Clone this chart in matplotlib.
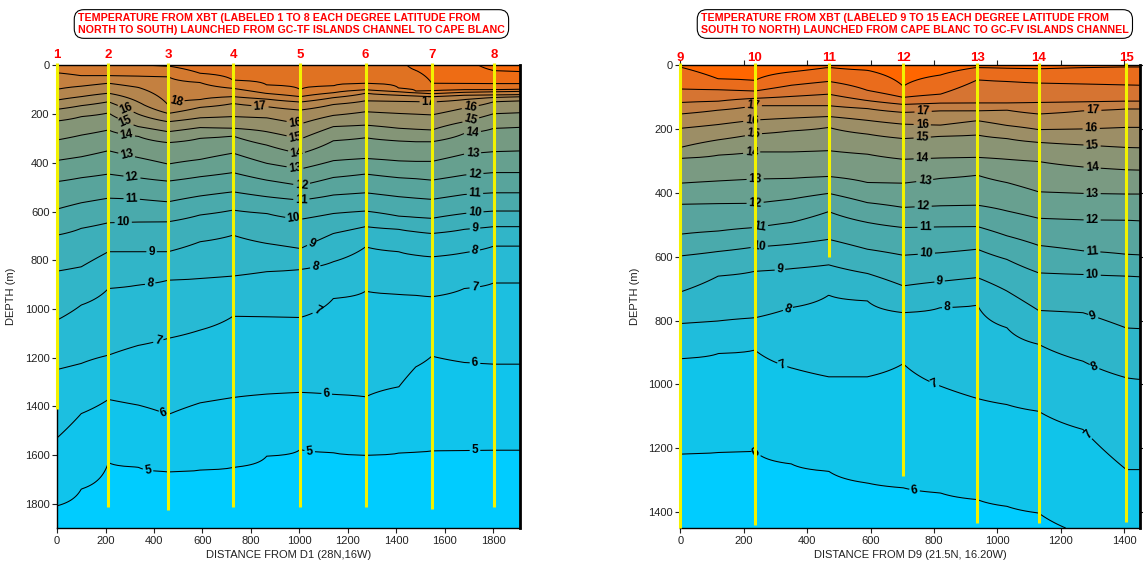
import numpy as np
import matplotlib.pyplot as plt

plt.rcParams['font.family'] = ['Liberation Sans', 'DejaVu Sans']

# ---------------------------------------------------------------- left section (D1 -> south)
left_dist = [0, 100, 212, 335, 458, 590, 726, 865, 1004, 1140, 1273, 1410, 1480, 1546, 1680, 1802, 1910]
# depth (m) of each isotherm at left_dist, 0 = not present
L05 = [1809, 1740, 1631, 1650, 1669, 1662, 1651, 1605, 1577, 1590, 1601, 1592, 1588, 1583, 1581, 1580, 1580]
L06 = [1530, 1430, 1372, 1395, 1434, 1386, 1364, 1350, 1343, 1351, 1361, 1320, 1238, 1194, 1220, 1227, 1227]
L07 = [1249, 1224, 1190, 1150, 1121, 1087, 1030, 1032, 1035, 957, 927, 940, 944, 950, 916, 893, 893]
L08 = [1046, 984, 916, 902, 882, 875, 865, 847, 838, 806, 745, 765, 779, 786, 769, 742, 742]
L09 = [845, 827, 765, 765, 765, 724, 697, 731, 752, 690, 662, 673, 683, 690, 673, 662, 662]
L10 = [697, 669, 646, 643, 642, 614, 594, 608, 632, 608, 598, 619, 624, 628, 608, 598, 598]
L11 = [590, 564, 545, 549, 560, 536, 519, 539, 553, 532, 523, 539, 545, 550, 530, 523, 523]
L12 = [477, 461, 446, 461, 475, 457, 440, 471, 493, 460, 446, 461, 465, 471, 450, 440, 440]
L13 = [390, 375, 350, 378, 405, 386, 360, 402, 425, 391, 382, 392, 394, 394, 364, 354, 351]
L14 = [306, 286, 265, 291, 317, 299, 290, 327, 362, 309, 297, 310, 313, 313, 279, 258, 254]
L15 = [228, 210, 195, 251, 272, 255, 258, 272, 302, 251, 245, 258, 262, 265, 231, 198, 194]
L16 = [180, 165, 149, 200, 231, 215, 210, 215, 240, 205, 190, 197, 200, 203, 175, 149, 145]
L17 = [142, 128, 114, 150, 197, 172, 156, 169, 183, 160, 145, 147, 148, 150, 140, 131, 128]
L18 = [98, 85, 73, 90, 162, 140, 128, 138, 150, 132, 114, 122, 125, 128, 122, 121, 120]
L19 = [30, 42, 42, 44, 46, 70, 94, 115, 128, 112, 100, 108, 112, 116, 110, 108, 106]
L20 = [0, 0, 0, 0, 2, 32, 60, 80, 100, 84, 73, 94, 105, 104, 100, 100, 98]
L21 = [0, 0, 0, 0, 0, 0, 0, 0, 0, 0, 0, 0, 20, 73, 75, 75, 75]
L22 = [0, 0, 0, 0, 0, 0, 0, 0, 0, 0, 0, 0, 0, 0, 0, 21, 25]
left_temps = list(range(5, 23))
left_rows = [L05, L06, L07, L08, L09, L10, L11, L12, L13, L14, L15, L16, L17, L18, L19, L20, L21, L22]

left_xbt = ['1', '2', '3', '4', '5', '6', '7', '8']
left_xbt_dist = [0, 212, 458, 726, 1004, 1273, 1546, 1802]
left_xbt_end = [1410, 1815, 1825, 1815, 1815, 1815, 1820, 1815]

left_colors = ['#00CCFF', '#10C4EC', '#1CBFE0', '#27BAD4', '#31B5C8', '#3DAFBA', '#4AAAAC',
               '#58A49C', '#66A08F', '#759A82', '#849577', '#948F6A', '#A48A5C', '#B4854E',
               '#C48040', '#D47A30', '#E07222', '#EE6C14', '#F86808']

# ---------------------------------------------------------------- right section (D9 -> north)
right_dist = [0, 120, 235, 350, 468, 590, 703, 820, 937, 1030, 1130, 1270, 1407, 1450]
R06 = [1218, 1213, 1209, 1249, 1272, 1309, 1324, 1340, 1361, 1382, 1403, 1470, 1520, 1540]
R07 = [919, 903, 892, 948, 976, 976, 935, 1005, 1044, 1063, 1084, 1141, 1267, 1267]
R08 = [809, 801, 791, 759, 720, 738, 775, 759, 751, 822, 874, 927, 979, 984]
R09 = [710, 660, 645, 637, 625, 652, 691, 677, 665, 707, 768, 775, 823, 825]
R10 = [597, 583, 569, 560, 545, 576, 595, 587, 576, 608, 650, 655, 660, 662]
R11 = [529, 519, 508, 492, 458, 492, 508, 506, 505, 534, 564, 581, 592, 594]
R12 = [435, 433, 432, 419, 401, 430, 445, 440, 438, 456, 479, 484, 485, 487]
R13 = [369, 362, 356, 354, 348, 367, 369, 354, 344, 367, 396, 401, 403, 403]
R14 = [291, 281, 271, 271, 267, 278, 294, 290, 288, 294, 301, 318, 327, 328]
R15 = [257, 233, 215, 205, 194, 215, 229, 222, 218, 229, 241, 249, 257, 258]
R16 = [197, 185, 171, 165, 160, 172, 184, 187, 173, 188, 201, 199, 194, 194]
R17 = [152, 140, 126, 126, 126, 135, 147, 142, 142, 140, 152, 142, 136, 136]
R18 = [116, 112, 103, 97, 90, 110, 122, 118, 118, 118, 116, 114, 112, 112]
R19 = [74, 76, 80, 62, 50, 78, 100, 90, 45, 50, 55, 58, 61, 62]
R20 = [5, 42, 47, 20, 6, 15, 65, 30, 6, 8, 10, 6, 4, 4]
right_temps = list(range(6, 21))
right_rows = [R06, R07, R08, R09, R10, R11, R12, R13, R14, R15, R16, R17, R18, R19, R20]

right_xbt = ['9', '10', '11', '12', '13', '14', '15']
right_xbt_dist = [0, 235, 468, 703, 937, 1130, 1407]
right_xbt_end = [1450, 1440, 600, 1288, 1435, 1435, 1432]

right_colors = ['#00CCFF', '#10C4EA', '#1FBDDC', '#2EB5CA', '#3CB0BC', '#4AAAAC', '#58A49E',
                '#68A090', '#7A9A82', '#8A9474', '#9C8E66', '#AE8856', '#C27E44', '#D67432',
                '#EA6C1C', '#FF6600']

# label anchor points (distance, depth)
left_lab = [(494, 162), (837, 169), (1531, 150),
            (287, 169), (287, 221), (287, 281), (287, 368), (308, 467), (308, 546), (273, 646),
            (390, 765), (384, 895), (418, 1132), (438, 1434), (376, 1656),
            (981, 241), (981, 299), (988, 358), (981, 427), (1009, 491), (1009, 560), (975, 640),
            (1051, 731), (1065, 827), (1072, 1005), (1112, 1354), (1043, 1578),
            (1703, 162), (1703, 210), (1714, 279), (1714, 361), (1724, 450), (1724, 530),
            (1724, 608), (1724, 669), (1724, 765), (1724, 916), (1724, 1224), (1724, 1578)]
right_lab = [(230, 126), (225, 170), (230, 213), (225, 273), (236, 356), (236, 432), (251, 503),
             (249, 569), (314, 639), (338, 759),
             (766, 149), (763, 184), (763, 229), (763, 292), (771, 362), (766, 443), (774, 508),
             (776, 589), (818, 679), (842, 759),
             (1301, 142), (1296, 199), (1299, 246), (1299, 320), (1299, 400), (1299, 484),
             (1299, 585), (1299, 655), (1306, 775), (1306, 945), (802, 995), (1285, 1160),
             (739, 1330), (324, 932), (241, 1212)]


def section_field(rows, temps, z):
    # temperature profile at every column from the isotherm depths
    ncol = len(rows[0])
    field = np.zeros((len(z), ncol))
    for j in range(ncol):
        dd = [r[j] for r in rows if r[j] > 0]
        tt = [t for t, r in zip(temps, rows) if r[j] > 0]
        order = np.argsort(dd)
        dd = np.array(dd, float)[order]
        tt = np.array(tt, float)[order]
        dd = np.concatenate([[0], dd, [max(dd[-1], z[-1]) + 200]])
        tt = np.concatenate([[tt[0] + 0.5], tt, [tt[-1] - 0.5]])
        field[:, j] = np.interp(z, dd, tt)
    return field


def draw_section(ax, dist, rows, temps, colors, levels, zmax, xmax, labpos,
                 names, sdist, send, lab_depth):
    z = np.linspace(0, zmax, 600)
    T = section_field(rows, temps, z)
    ax.contourf(dist, z, T, levels=levels, colors=colors)
    cs = ax.contour(dist, z, T, levels=temps, colors='k', linewidths=0.75)
    ax.clabel(cs, cs.levels, manual=labpos, fmt='%d', fontsize=8.5, inline=True,
              inline_spacing=2)
    for t in cs.labelTexts:
        t.set_fontweight('bold')
    for n, x, e in zip(names, sdist, send):
        ax.plot([x, x], [-12 * zmax / 1900, e], color='#F2F200', lw=2.2,
                clip_on=False, zorder=6, solid_capstyle='butt')
        ax.text(x, lab_depth, n, color='red', fontsize=9.5, fontweight='bold',
                ha='center', va='center', zorder=7)
    ax.set_xlim(0, xmax)
    ax.set_ylim(zmax, 0)
    ax.tick_params(labelsize=8, length=3.5, pad=2, colors='#222222')
    for s in ax.spines.values():
        s.set_linewidth(1.0)
    ax.spines['right'].set_linewidth(2.0)


fig = plt.figure(figsize=(11.43, 5.65), dpi=100)
ax1 = fig.add_axes([0.0499, 0.0655, 0.4051, 0.8186])
ax2 = fig.add_axes([0.5952, 0.0655, 0.4022, 0.8186])

draw_section(ax1, left_dist, left_rows, left_temps, left_colors, np.arange(4, 24),
             1900, 1910, left_lab, left_xbt, left_xbt_dist, left_xbt_end, -43)
ax1.set_xticks(np.arange(0, 1801, 200))
ax1.set_yticks(np.arange(0, 1801, 200))
ax1.set_xlabel('DISTANCE FROM D1 (28N,16W)', fontsize=8, color='#222222', labelpad=3)
ax1.set_ylabel('DEPTH (m)', fontsize=8, color='#222222', labelpad=6)

draw_section(ax2, right_dist, right_rows, right_temps, right_colors, np.arange(5, 22),
             1450, 1450, right_lab, right_xbt, right_xbt_dist, right_xbt_end, -25)
ax2.set_xticks(np.arange(0, 1401, 200))
ax2.set_yticks(np.arange(0, 1401, 200))
ax2.tick_params(top=True, right=True, labeltop=False, labelright=False)
ax2.set_xlabel('DISTANCE FROM D9 (21.5N, 16.20W)', fontsize=8, color='#222222', labelpad=3)
ax2.set_ylabel('DEPTH (m)', fontsize=8, color='#222222', labelpad=6)

box = dict(boxstyle='round,pad=0.35,rounding_size=0.9', fc='white', ec='black', lw=0.8)
fig.text(78 / 1143, 1 - 24 / 565,
         'TEMPERATURE FROM XBT (LABELED 1 TO 8 EACH DEGREE LATITUDE FROM\n'
         'NORTH TO SOUTH) LAUNCHED FROM GC-TF ISLANDS CHANNEL TO CAPE BLANC',
         color='red', fontsize=7.7, fontweight='bold', ha='left', va='center',
         linespacing=1.15, bbox=box)
fig.text(701 / 1143, 1 - 24 / 565,
         'TEMPERATURE FROM XBT (LABELED 9 TO 15 EACH DEGREE LATITUDE FROM\n'
         'SOUTH TO NORTH) LAUNCHED FROM CAPE BLANC TO GC-FV ISLANDS CHANNEL',
         color='red', fontsize=7.7, fontweight='bold', ha='left', va='center',
         linespacing=1.15, bbox=box)

fig.savefig('out.png', dpi=100)
